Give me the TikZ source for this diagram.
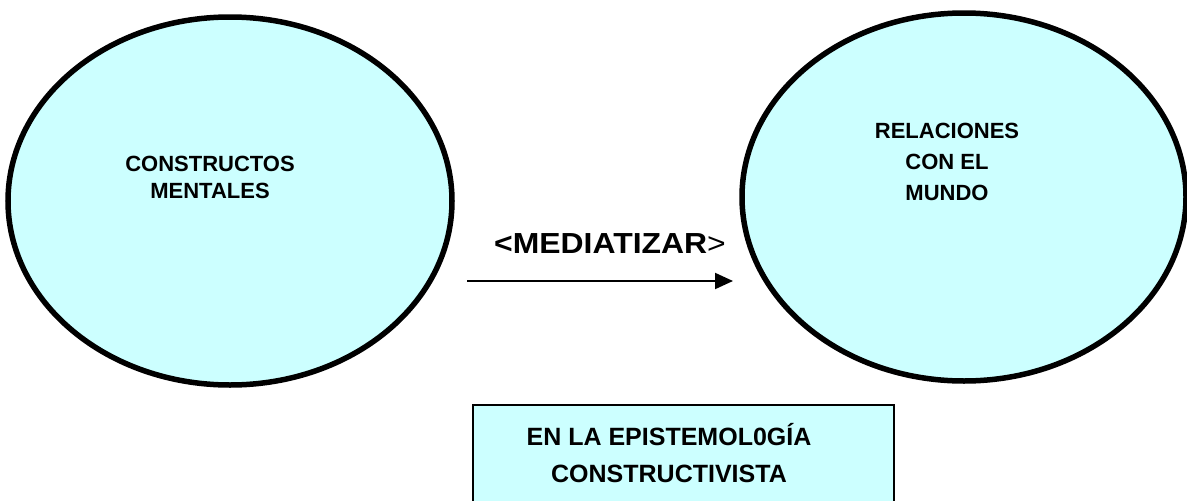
\documentclass[tikz,border=0pt]{standalone}
\usepackage{fontspec}
\setmainfont{Liberation Sans}
\usetikzlibrary{shapes.geometric,arrows.meta}
\definecolor{lcyan}{RGB}{204,255,255}
\begin{document}
\begin{tikzpicture}[x=1pt,y=1pt,
  bubble/.style={ellipse,draw=black,line width=5.5pt,fill=lcyan,inner sep=0pt,outer sep=0pt},
  lbl/.style={font=\bfseries\fontsize{22}{27}\selectfont,align=center,inner sep=0pt},
  boxtxt/.style={font=\bfseries\fontsize{25}{37}\selectfont,align=center,inner sep=0pt}]
\useasboundingbox (0,0) rectangle (1187,-501);
\clip (0,0) rectangle (1187,-501);
\node[bubble,minimum width=444pt,minimum height=368pt] (left) at (230,-201) {};
\node[bubble,minimum width=444pt,minimum height=368pt] (right) at (964,-197) {};
\node[lbl] (ltext) at (210,-177) {CONSTRUCTOS\\MENTALES};
\node[lbl,font=\bfseries\fontsize{22}{31}\selectfont] (rtext) at (947,-162) {RELACIONES\\CON EL\\MUNDO};
\node[inner sep=0pt,font=\fontsize{29}{32}\selectfont] (med) at (610,-244) {\scalebox{1.1}[1]{\textbf{<MEDIATIZAR}>}};
\coordinate (a1) at (467,-281);
\coordinate (a2) at (733,-281);
\draw[line width=2pt,-{Triangle[length=18pt,width=16pt]}] (a1) -- (a2);
\node[draw=black,line width=2pt,fill=lcyan,minimum width=421pt,minimum height=120pt,anchor=north west] (box) at (472,-404) {};
\node[boxtxt] (btext) at (669,-453) {EN LA EPISTEMOL0GÍA\\CONSTRUCTIVISTA};
\end{tikzpicture}
\end{document}
